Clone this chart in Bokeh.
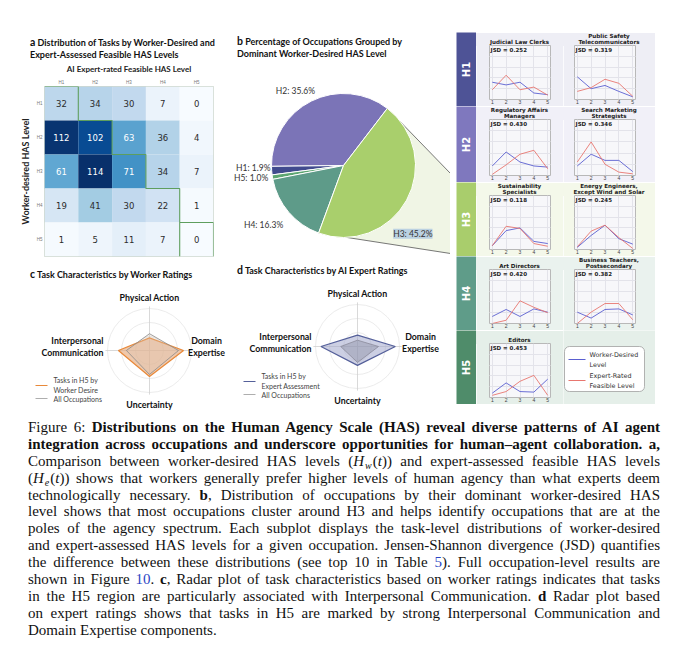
import math
from bokeh.plotting import figure
from bokeh.models import ColumnDataSource, Range1d, FixedTicker, Div, Spacer, Label, Grid
from bokeh.layouts import row, column
from bokeh.transform import linear_cmap
from bokeh.palettes import Blues256
from bokeh.core.properties import value
from bokeh.embed import file_html
from bokeh.resources import INLINE

# ---------------- data ----------------
has_levels = ["H1", "H2", "H3", "H4", "H5"]
# panel a: rows = worker-desired level, columns = AI expert-rated level
tasks_worker_H1 = [32, 34, 30, 7, 0]
tasks_worker_H2 = [112, 102, 63, 36, 4]
tasks_worker_H3 = [61, 114, 71, 34, 7]
tasks_worker_H4 = [19, 41, 30, 22, 1]
tasks_worker_H5 = [1, 5, 11, 7, 0]

# panel b (drawn counter-clockwise in this order)
pie_levels = ["H2", "H1", "H5", "H4", "H3"]
pie_share = [35.6, 1.9, 1.0, 16.3, 45.2]

# panels c / d (normalised radar scores)
radar_axes = ["Physical Action", "Domain\nExpertise", "Uncertainty", "Interpersonal\nCommunication"]
radar_worker_h5 = [0.30, 0.81, 0.62, 0.74]
radar_worker_all = [0.40, 0.69, 0.57, 0.55]
radar_expert_h5 = [0.27, 0.90, 0.45, 0.87]
radar_expert_all = [0.15, 0.50, 0.38, 0.40]

# right panel: task-level distributions per occupation
has_x = [1, 2, 3, 4, 5]
occ_names = [["Judicial Law Clerks", "Public Safety\nTelecommunicators"],
             ["Regulatory Affairs\nManagers", "Search Marketing\nStrategists"],
             ["Sustainability\nSpecialists", "Energy Engineers,\nExcept Wind and Solar"],
             ["Art Directors", "Business Teachers,\nPostsecondary"],
             ["Editors"]]
occ_jsd = [[0.252, 0.319], [0.430, 0.346], [0.118, 0.245], [0.420, 0.382], [0.453]]
occ_worker = [[[0.32, 0.27, 0.32, 0.12, 0.09], [0.42, 0.20, 0.26, 0.15, 0.05]],
              [[0.17, 0.42, 0.24, 0.17, 0.15], [0.17, 0.38, 0.27, 0.27, 0.07]],
              [[0.07, 0.35, 0.40, 0.15, 0.11], [0.04, 0.26, 0.45, 0.20, 0.10]],
              [[0.13, 0.26, 0.13, 0.27, 0.21], [0.21, 0.10, 0.26, 0.27, 0.16]],
              [[0.08, 0.27, 0.11, 0.10, 0.34]]]
occ_expert = [[[0.18, 0.45, 0.18, 0.23, 0.08], [0.15, 0.22, 0.375, 0.30, 0.06]],
              [[0.02, 0.19, 0.38, 0.45, 0.12], [0.24, 0.60, 0.20, 0.06, 0.03]],
              [[0.07, 0.43, 0.39, 0.11, 0.06], [0.05, 0.34, 0.45, 0.22, 0.02]],
              [[0.00, 0.06, 0.42, 0.30, 0.20], [0.00, 0.21, 0.37, 0.37, 0.07]],
              [[0.04, 0.11, 0.30, 0.41, 0.04]]]

# ---------------- styles ----------------
SANS = "Lato"
level_strip = {"H1": "#4e5396", "H2": "#7f78be", "H3": "#a9cd6c", "H4": "#5f9c89", "H5": "#4f8c6a"}
level_bg = {"H1": "#eeeef5", "H2": "#f1f0f8", "H3": "#f4f8ea", "H4": "#eaf2ee", "H5": "#e5efe9"}
pie_colors = {"H1": "#414b8e", "H2": "#7b74b7", "H3": "#a9cf6c", "H4": "#5e9b89", "H5": "#5ea672"}
pie_label_nudge = {"H2": (7, 4), "H1": (6, 3.5), "H5": (3, 0), "H4": (0, -8)}
BLUE = "#5a5fd0"
RED = "#e8766f"


def base_fig(**kw):
    return figure(output_backend="svg", toolbar_location=None, **kw)


def title_div(letter, text, width, height, pad_left, pad_top, lh=12):
    html = (f'<div style="width:{width}px;height:{height}px;box-sizing:border-box;'
            f'padding:{pad_top}px 0 0 {pad_left}px;font-family:Lato,sans-serif;'
            f'font-weight:bold;font-size:9px;line-height:{lh}px;color:#111;white-space:nowrap">'
            f'<span style="font-size:10.5px">{letter}</span> {text}</div>')
    return Div(text=html, width=width, height=height, margin=0)


# ---------------- panel a: heatmap ----------------
rows_a = [tasks_worker_H1, tasks_worker_H2, tasks_worker_H3, tasks_worker_H4, tasks_worker_H5]
vmax = max(max(r) for r in rows_a)
hx, hy, hv, hc = [], [], [], []
for i, r in enumerate(rows_a):
    for j, v in enumerate(r):
        hx.append(j + 0.5)
        hy.append(i + 0.5)
        hv.append(v)
        hc.append("white" if v > vmax / 2 else "#2b2b2b")
src_a = ColumnDataSource(dict(x=hx, y=hy, v=hv, label=[str(v) for v in hv], tc=hc))

n = len(has_levels)
pa = base_fig(frame_width=169, frame_height=170, x_range=Range1d(0, n), y_range=Range1d(n, 0),
              x_axis_location="above", min_border_left=36, min_border_right=17,
              min_border_top=22, min_border_bottom=10)
pa.rect("x", "y", 1, 1, source=src_a, line_color=None,
        fill_color=linear_cmap("v", Blues256[::-1], 0, vmax))
pa.text("x", "y", text="label", source=src_a, text_color="tc", text_align="center",
        text_baseline="middle", text_font_size="8.5px", text_font=value("DejaVu Sans"))
stair_x, stair_y = [], []
for k in range(n):
    stair_x += [k, k + 1]
    stair_y += [k, k]
stair_x.append(n)
stair_y.append(n)
pa.line(stair_x, stair_y, line_color="#5e9e5e", line_width=1.1)
pa.line([n - 1, n - 1], [n - 1, n], line_color="#5e9e5e", line_width=1.1)
ticks = [k + 0.5 for k in range(n)]
for ax in (pa.xaxis[0], pa.yaxis[0]):
    ax.ticker = FixedTicker(ticks=ticks)
    ax.major_label_overrides = {t: lv for t, lv in zip(ticks, has_levels)}
    ax.major_tick_out = 0
    ax.major_tick_in = 0
    ax.minor_tick_out = 0
    ax.minor_tick_in = 0
    ax.axis_line_color = None
    ax.major_label_text_font_size = "4.5px"
    ax.major_label_text_color = "#777"
    ax.major_label_standoff = 2
    ax.axis_label_text_font_style = "bold"
    ax.axis_label_text_font = SANS
    ax.axis_label_standoff = 3
    ax.axis_label_text_color = "#222"
pa.xaxis.axis_label = "AI Expert-rated Feasible HAS Level"
pa.xaxis.axis_label_text_font_size = "8px"
pa.yaxis.axis_label = "Worker-desired HAS Level"
pa.yaxis.axis_label_text_font_size = "9px"
pa.yaxis.major_label_orientation = "horizontal"
pa.grid.visible = False
pa.outline_line_color = "#cfd8cf"

# ---------------- panel b: pie ----------------
PB_W, PB_H = 220, 202
pcx, pcy, pr = 113, 97, 72
pb = base_fig(width=PB_W, height=PB_H, x_range=Range1d(0, PB_W), y_range=Range1d(0, PB_H), min_border=0,
              x_axis_location=None, y_axis_location=None)
pb.grid.visible = False
pb.outline_line_color = None
tot = sum(pie_share)
start0 = math.radians(52.5)
starts, ends = [], []
acc = start0
for s in pie_share:
    starts.append(acc)
    acc += s / tot * 2 * math.pi
    ends.append(acc)
# zoom call-out towards the H3 band
i3 = pie_levels.index("H3")
ax1 = pcx + pr * math.cos(ends[i3]); ay1 = pcy + pr * math.sin(ends[i3])
ax2 = pcx + pr * math.cos(starts[i3]); ay2 = pcy + pr * math.sin(starts[i3])
pb.patch([ax1, PB_W, PB_W, ax2], [ay1, 89, 9, ay2], fill_color="#e6efd3", fill_alpha=0.6, line_color=None)
pb.line([ax1, PB_W], [ay1, 89], line_color="#555", line_width=0.8)
pb.line([ax2, PB_W], [ay2, 9], line_color="#555", line_width=0.8)
src_b = ColumnDataSource(dict(lv=pie_levels, s=starts, e=ends,
                              c=[pie_colors[l] for l in pie_levels]))
pb.wedge(x=pcx, y=pcy, radius=pr, start_angle="s", end_angle="e", fill_color="c",
         line_color="white", line_width=1, source=src_b)
for lv, s, e, v in zip(pie_levels, starts, ends, pie_share):
    txt = f"{lv}: {v:.1f}%"
    if lv == "H3":
        pb.add_layout(Label(x=pcx + 1.35 * pr * math.cos(math.radians(-44.5)),
                            y=pcy + 1.35 * pr * math.sin(math.radians(-44.5)),
                            text=txt, text_align="center", text_baseline="middle",
                            text_font_size="8.5px", text_font=SANS, text_color="#333",
                            background_fill_color="#b5cde0", background_fill_alpha=0.9))
        continue
    m = (s + e) / 2
    dx, dy = pie_label_nudge.get(lv, (0, 0))
    lx = pcx + 1.1 * pr * math.cos(m) + dx
    ly = pcy + 1.1 * pr * math.sin(m) + dy
    pb.text([lx], [ly], text=[txt], text_align="right" if math.cos(m) < 0 else "left",
            text_baseline="middle", text_font_size="8.5px", text_font=value(SANS),
            text_color="#333")

# ---------------- panels c / d: radar ----------------
RAD_H = 136
angles = [90, 0, 270, 180]


def radar(w, cx, h5_vals, all_vals, h5_line, h5_fill, h5_alpha, all_line, all_fill, all_alpha,
          leg_x, leg_label, right_off):
    cy, R = 66, 42
    p = base_fig(width=w, height=RAD_H, x_range=Range1d(0, w), y_range=Range1d(0, RAD_H), min_border=0,
                 x_axis_location=None, y_axis_location=None)
    p.grid.visible = False
    p.outline_line_color = None
    for f in (1 / 3, 2 / 3, 1.0):
        p.circle([cx], [cy], radius=R * f, fill_color=None, line_color="#e6e6e6", line_width=0.8)
    for a in angles:
        p.segment(cx, cy, cx + 1.05 * R * math.cos(math.radians(a)),
                  cy + 1.05 * R * math.sin(math.radians(a)), line_color="#cfcfcf", line_width=0.8)

    def poly(vals):
        return ([cx + R * v * math.cos(math.radians(a)) for v, a in zip(vals, angles)],
                [cy + R * v * math.sin(math.radians(a)) for v, a in zip(vals, angles)])
    xs, ys = poly(h5_vals)
    p.patch(xs, ys, fill_color=h5_fill, fill_alpha=h5_alpha, line_color=h5_line, line_width=1.2)
    xs, ys = poly(all_vals)
    p.patch(xs, ys, fill_color=all_fill, fill_alpha=all_alpha, line_color=all_line, line_width=0.8)
    lab = dict(text_font=value(SANS), text_font_style="bold", text_font_size="8.8px",
               text_color="#111", text_baseline="middle")
    p.text([cx], [119], text=[radar_axes[0]], text_align="center", **lab)
    p.text([cx + right_off], [70], text=[radar_axes[1]], text_align="center", text_line_height=1.15, **lab)
    p.text([cx], [12], text=[radar_axes[2]], text_align="center", **lab)
    p.text([cx - 46], [70], text=[radar_axes[3]], text_align="right", text_line_height=1.15, **lab)
    p.line([leg_x, leg_x + 12], [31, 31], line_color=h5_line, line_width=1.2)
    p.line([leg_x, leg_x + 12], [18, 18], line_color="#999", line_width=0.8)
    lt = dict(text_font=value(SANS), text_font_size="7px", text_color="#444",
              text_baseline="middle", text_align="left")
    p.text([leg_x + 18], [31.5], text=[leg_label], text_line_height=1.25, **lt)
    p.text([leg_x + 18], [18], text=["All Occupations"], **lt)
    return p


pc = radar(222, 141, radar_worker_h5, radar_worker_all, "#e8893a", "#e6ab7e", 0.65,
           "#8a8a8a", "#d8c6b8", 0.3, 27, "Tasks in H5 by\nWorker Desire", 57)
pd_ = radar(220, 127, radar_expert_h5, radar_expert_all, "#55609a", "#a3a8cc", 0.55,
            "#8a8a9a", "#8e90a4", 0.45, 13, "Tasks in H5 by\nExpert Assessment", 63)

# ---------------- right panel ----------------
band_h = [74, 76, 74, 74, 74]
TITLE_H = 13


def strip(level, h):
    p = base_fig(width=26, height=h, x_range=Range1d(0, 1), y_range=Range1d(0, 1), min_border=0,
                 min_border_left=6, x_axis_location=None, y_axis_location=None)
    p.grid.visible = False
    p.outline_line_color = None
    p.background_fill_color = level_strip[level]
    p.border_fill_color = "white"
    p.text([0.5], [0.5], text=[level], angle=math.pi / 2, text_align="center", text_baseline="middle",
           text_color="white", text_font_style="bold", text_font_size="10px",
           text_font=value("DejaVu Sans"))
    return p


def small_title(name, width, lb, rb, bg):
    lines = name.split("\n")
    lh = 6.2
    pad = TITLE_H - 1 - lh * len(lines)
    html = (f'<div style="width:{width}px;height:{TITLE_H}px;box-sizing:border-box;background:{bg};'
            f'padding:{pad}px {rb}px 0 {lb}px;text-align:center;font-family:\'DejaVu Sans\',sans-serif;'
            f'font-weight:bold;font-size:5.6px;line-height:{lh}px;color:#222;white-space:nowrap">'
            f'{"<br>".join(lines)}</div>')
    return Div(text=html, width=width, height=TITLE_H, margin=0)


def band_plot(name, jsd, w_vals, e_vals, width, lb, rb, bg, h):
    p = base_fig(width=width, height=h - TITLE_H, x_range=Range1d(0.8, 5.2), y_range=Range1d(0, 1),
                 min_border=0, min_border_left=lb, min_border_right=rb, min_border_top=0,
                 min_border_bottom=5, y_axis_location=None)
    p.background_fill_color = "#f7f7fa"
    p.border_fill_color = bg
    p.outline_line_color = "#b8b8b8"
    p.xaxis.ticker = FixedTicker(ticks=has_x)
    p.xaxis.major_label_text_font_size = "5px"
    p.xaxis.major_label_text_color = "#444"
    p.xaxis.major_label_standoff = 0
    p.xaxis.major_tick_out = 0
    p.xaxis.major_tick_in = 0
    p.xaxis.minor_tick_out = 0
    p.xaxis.minor_tick_in = 0
    p.xaxis.axis_line_color = None
    p.xgrid.grid_line_color = "#e3e3ea"
    p.add_layout(Grid(dimension=1, ticker=FixedTicker(ticks=[0.2, 0.4, 0.6, 0.8]),
                      grid_line_color="#e3e3ea"))
    p.line(has_x, w_vals, line_color=BLUE, line_width=0.9)
    p.line(has_x, e_vals, line_color=RED, line_width=0.9)
    p.text([0.88], [0.97], text=[f"JSD = {jsd:.3f}"], text_baseline="top", text_align="left",
           text_font_size="5.5px", text_font_style="bold", text_font=value("DejaVu Sans"),
           text_color="#222")
    return column(small_title(name, width, lb, rb, bg), p, spacing=0)


def legend_fig(bg, h):
    p = base_fig(width=92, height=h, x_range=Range1d(0, 92), y_range=Range1d(0, h), min_border=0,
                 x_axis_location=None, y_axis_location=None)
    p.grid.visible = False
    p.outline_line_color = None
    p.background_fill_color = bg
    p.border_fill_color = bg
    p.quad(left=1, right=81, bottom=13, top=58, fill_color="white", line_color="#a0a0a0",
           line_width=0.8, border_radius=5)
    p.line([5, 22], [45, 45], line_color=BLUE, line_width=1.2)
    p.line([5, 22], [24, 24], line_color=RED, line_width=1.2)
    lt = dict(text_font=value("DejaVu Sans"), text_font_size="6.4px", text_color="#333",
              text_baseline="middle", text_align="left", text_line_height=1.25)
    p.text([26], [45], text=["Worker-Desired\nLevel"], **lt)
    p.text([26], [24], text=["Expert-Rated\nFeasible Level"], **lt)
    return p


right_rows = [Spacer(width=222, height=24, margin=0)]
for li, lv in enumerate(has_levels):
    h = band_h[li]
    bg = level_bg[lv]
    kids = [strip(lv, h)]
    kids.append(band_plot(occ_names[li][0], occ_jsd[li][0], occ_worker[li][0], occ_expert[li][0],
                          87, 13, 13, bg, h))
    if len(occ_names[li]) > 1:
        kids.append(band_plot(occ_names[li][1], occ_jsd[li][1], occ_worker[li][1], occ_expert[li][1],
                              92, 11, 20, bg, h))
    else:
        kids.append(legend_fig(bg, h))
    kids.append(Spacer(width=17, height=h, margin=0))
    right_rows.append(row(*kids, spacing=0))

col_r = column(*right_rows, spacing=0)

# nested columns keep the heatmap's borders from being imposed on the radar figures
col_a = column(
    column(title_div("a", "Distribution of Tasks by Worker-Desired and<br>Expert-Assessed Feasible HAS Levels",
                     222, 52, 22, 28), pa, spacing=0),
    column(title_div("c", "Task Characteristics by Worker Ratings", 222, 14, 22, 0, lh=12), pc, spacing=0),
    spacing=0)
col_b = column(
    column(title_div("b", "Percentage of Occupations Grouped by<br>Dominant Worker-Desired HAS Level",
                     220, 52, 7, 27), pb, spacing=0),
    column(title_div("d", "Task Characteristics by AI Expert Ratings", 220, 14, 7, 0, lh=12), pd_, spacing=0),
    spacing=0)

top = row(col_a, col_b, col_r, spacing=0)

# ---------------- caption ----------------
BL = '<span style="color:#2a44c4">'
H_W = '<i>H</i><span style="font-size:10px;font-style:italic;position:relative;top:3px;margin:0 1px">w</span>(<i>t</i>)'
H_E = '<i>H</i><span style="font-size:10px;font-style:italic;position:relative;top:3px;margin:0 1px">e</span>(<i>t</i>)'
cap_lines = [
    'Figure 6: <b>Distributions on the Human Agency Scale (HAS) reveal diverse patterns of AI agent</b>',
    '<b>integration across occupations and underscore opportunities for human–agent collaboration. a,</b>',
    f'Comparison between worker-desired HAS levels ({H_W}) and expert-assessed feasible HAS levels',
    f'({H_E}) shows that workers generally prefer higher levels of human agency than what experts deem',
    'technologically necessary. <b>b</b>, Distribution of occupations by their dominant worker-desired HAS',
    'level shows that most occupations cluster around H3 and helps identify occupations that are at the',
    'poles of the agency spectrum. Each subplot displays the task-level distributions of worker-desired',
    'and expert-assessed HAS levels for a given occupation. Jensen-Shannon divergence (JSD) quantifies',
    f'the difference between these distributions (see top 10 in Table {BL}5</span>). Full occupation-level results are',
    f'shown in Figure {BL}10</span>. <b>c</b>, Radar plot of task characteristics based on worker ratings indicates that tasks',
    'in the H5 region are particularly associated with Interpersonal Communication. <b>d</b> Radar plot based',
    'on expert ratings shows that tasks in H5 are marked by strong Interpersonal Communication and',
    'Domain Expertise components.',
]
cap_html = ['<div style="width:664px;box-sizing:border-box;padding:3px 12px 0 20px;'
            'font-family:\'Liberation Serif\',serif;font-size:15px;line-height:16.9px;color:#111">']
for k, ln in enumerate(cap_lines):
    al = "left" if k == len(cap_lines) - 1 else "justify"
    cap_html.append(f'<div style="width:632px;height:16.9px;text-align:{al};text-align-last:{al}">{ln}</div>')
cap_html.append('</div>')
caption = Div(text="".join(cap_html), width=664, height=236, margin=0)

content = column(top, caption, spacing=0)
page = column(Spacer(width=672, height=8, margin=0),
              row(Spacer(width=8, height=10, margin=0), content, spacing=0), spacing=0)
open("out.html", "w").write(file_html(page, INLINE))
